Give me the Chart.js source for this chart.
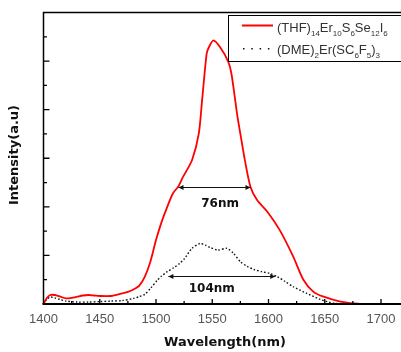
<!DOCTYPE html>
<html>
<head>
<meta charset="utf-8">
<script src="https://cdn.jsdelivr.net/npm/chart.js@4.4.1/dist/chart.umd.min.js"></script>
<style>
  body { margin: 0; background: #fff; }
  #wrap { width: 401px; height: 352px; overflow: hidden; position: relative; }
  canvas { display: block; }
</style>
</head>
<body>
<div id="wrap"><canvas id="chart" width="430" height="352"></canvas></div>
<script>
// wavelength (nm) and intensity (a.u.)
const thfWave = [1400, 1403, 1406, 1410, 1415, 1420, 1425, 1430, 1435, 1440, 1445, 1450, 1460, 1470, 1475, 1480,
  1485, 1490, 1495, 1500, 1505, 1510, 1515, 1520, 1524, 1532, 1538, 1541, 1545, 1547, 1551, 1557, 1564, 1567,
  1572, 1575, 1579, 1584, 1590, 1599, 1610, 1622, 1631, 1640, 1649, 1664, 1682, 1700];
const thfInt = [0, 0.25, 0.37, 0.37, 0.3, 0.23, 0.25, 0.3, 0.35, 0.37, 0.35, 0.33, 0.33, 0.44, 0.5, 0.6,
  0.75, 1.12, 1.74, 2.63, 3.38, 4.0, 4.55, 4.85, 5.23, 5.92, 7.0, 8.4, 10.3, 10.57, 10.85, 10.57, 10.0, 9.5,
  7.85, 7.0, 5.92, 4.82, 4.27, 3.8, 3.04, 1.95, 1.0, 0.5, 0.3, 0.1, 0, 0];

const dmeWave = [1400, 1403, 1406, 1410, 1415, 1420, 1430, 1440, 1450, 1460, 1470, 1480, 1485, 1490, 1495, 1501,
  1505, 1510, 1516, 1521, 1525, 1532, 1539, 1544, 1548, 1555, 1563, 1569, 1575, 1581, 1587, 1594, 1601, 1608,
  1615, 1622, 1634, 1646, 1658, 1670, 1700];
const dmeInt = [0, 0.2, 0.29, 0.25, 0.18, 0.12, 0.08, 0.08, 0.1, 0.12, 0.14, 0.23, 0.3, 0.4, 0.64, 0.97,
  1.15, 1.33, 1.5, 1.67, 1.85, 2.29, 2.49, 2.42, 2.33, 2.22, 2.29, 2.08, 1.74, 1.55, 1.42, 1.33, 1.26, 1.12,
  0.92, 0.71, 0.44, 0.19, 0.03, 0, 0];

const xTickLabels = [1400, 1450, 1500, 1550, 1600, 1650, 1700];

// legend labels: [text, isSubscript]
const thfLabel = [["(THF)", 0], ["14", 1], ["Er", 0], ["10", 1], ["S", 0], ["6", 1], ["Se", 0], ["12", 1], ["I", 0], ["6", 1]];
const dmeLabel = [["(DME)", 0], ["2", 1], ["Er(SC", 0], ["6", 1], ["F", 0], ["5", 1], [")", 0], ["3", 1]];

// FWHM markers: [from, to, level, label, labelX, labelY]
const widths = [
  [1520, 1584, 4.82, "76nm", 1557, 4.14],
  [1511, 1606, 1.15, "104nm", 1549.6, 0.64],
];

const xMin = 1400, xMax = 1740, yMax = 12;

function toPoints(xs, ys) {
  return xs.map((x, i) => ({ x: x, y: ys[i] }));
}

function drawRich(ctx, parts, x, y) {
  parts.forEach(([t, sub]) => {
    ctx.font = sub ? "8px 'Liberation Sans', Arial, sans-serif" : "13px 'Liberation Sans', Arial, sans-serif";
    ctx.fillText(t, x, sub ? y + 4 : y);
    x += ctx.measureText(t).width;
  });
}

function arrowHead(ctx, x, y, dir) {
  ctx.beginPath();
  ctx.moveTo(x, y);
  ctx.lineTo(x - dir * 5, y - 2.5);
  ctx.lineTo(x - dir * 5, y + 2.5);
  ctx.closePath();
  ctx.fill();
}

const framePlugin = {
  id: "frame",
  afterDatasetsDraw(chart) {
    const ctx = chart.ctx;
    const a = chart.chartArea;
    const xs = chart.scales.x, ys = chart.scales.y;
    ctx.save();

    // width arrows and labels
    ctx.strokeStyle = "#111";
    ctx.fillStyle = "#111";
    ctx.lineWidth = 1;
    widths.forEach(([from, to, lvl, label, lx, ly]) => {
      const x1 = xs.getPixelForValue(from), x2 = xs.getPixelForValue(to);
      const y = Math.round(ys.getPixelForValue(lvl)) + 0.5;
      ctx.beginPath();
      ctx.moveTo(x1, y);
      ctx.lineTo(x2, y);
      ctx.stroke();
      arrowHead(ctx, x1, y, -1);
      arrowHead(ctx, x2, y, 1);
      ctx.font = "bold 12px 'DejaVu Sans', sans-serif";
      ctx.textAlign = "center";
      ctx.textBaseline = "middle";
      ctx.fillText(label, xs.getPixelForValue(lx), ys.getPixelForValue(ly));
    });

    // frame
    ctx.strokeStyle = "#000";
    ctx.lineWidth = 1.5;
    ctx.beginPath();
    ctx.moveTo(a.left, a.bottom);
    ctx.lineTo(a.left, a.top);
    ctx.lineTo(a.right, a.top);
    ctx.lineTo(a.right, a.bottom);
    ctx.stroke();
    ctx.lineWidth = 2;
    ctx.beginPath();
    ctx.moveTo(a.left - 1, a.bottom);
    ctx.lineTo(a.right, a.bottom);
    ctx.stroke();

    // inward ticks
    ctx.lineWidth = 1.3;
    ctx.beginPath();
    for (let v = 1425; v < xMax; v += 25) {
      const px = xs.getPixelForValue(v);
      const len = v % 50 === 0 ? 5 : 3;
      ctx.moveTo(px, a.bottom);
      ctx.lineTo(px, a.bottom - len);
    }
    for (let v = 1; v < yMax; v++) {
      const py = ys.getPixelForValue(v);
      const len = v % 2 === 0 ? 6 : 3.5;
      ctx.moveTo(a.left, py);
      ctx.lineTo(a.left + len, py);
    }
    ctx.stroke();

    // legend box
    ctx.fillStyle = "#fff";
    ctx.fillRect(228, 15, 200, 47);
    ctx.strokeStyle = "#000";
    ctx.lineWidth = 1;
    ctx.strokeRect(228.5, 15.5, 200, 46);
    ctx.strokeStyle = "#ff0000";
    ctx.lineWidth = 2;
    ctx.beginPath();
    ctx.moveTo(242, 25.5);
    ctx.lineTo(273, 25.5);
    ctx.stroke();
    ctx.fillStyle = "#111";
    for (let i = 0; i < 4; i++) {
      ctx.fillRect(243 + i * 8.3, 48, 1.5, 1.5);
    }
    ctx.fillStyle = "#333";
    ctx.textAlign = "left";
    ctx.textBaseline = "alphabetic";
    drawRich(ctx, thfLabel, 277, 31.5);
    drawRich(ctx, dmeLabel, 277, 53.5);

    // axis titles
    ctx.fillStyle = "#111";
    ctx.font = "bold 13px 'DejaVu Sans', sans-serif";
    ctx.textAlign = "center";
    ctx.textBaseline = "middle";
    ctx.fillText("Wavelength(nm)", 225, 343);
    ctx.translate(14.5, 155);
    ctx.rotate(-Math.PI / 2);
    ctx.fillText("Intensity(a.u)", 0, 0);
    ctx.restore();
  },
};

new Chart(document.getElementById("chart"), {
  type: "line",
  data: {
    datasets: [
      {
        label: "THF",
        data: toPoints(thfWave, thfInt),
        borderColor: "#ff0000",
        borderWidth: 1.8,
        pointRadius: 0,
        tension: 0.25,
        fill: false,
      },
      {
        label: "DME",
        data: toPoints(dmeWave, dmeInt),
        borderColor: "#111",
        borderWidth: 1.4,
        borderDash: [1.6, 2],
        pointRadius: 0,
        tension: 0.25,
        fill: false,
      },
    ],
  },
  options: {
    responsive: false,
    devicePixelRatio: 1,
    animation: false,
    layout: { padding: { top: 12.5, right: 4, left: 0, bottom: 0 } },
    plugins: { legend: { display: false }, tooltip: { enabled: false } },
    scales: {
      x: {
        type: "linear",
        min: xMin,
        max: xMax,
        grid: { display: false, drawTicks: false },
        border: { display: false },
        afterFit: (s) => { s.height = 48; },
        afterBuildTicks: (s) => {
          s.ticks = xTickLabels.map((v) => ({ value: v }));
        },
        ticks: {
          padding: 8,
          color: "#555",
          font: { family: "'Liberation Sans', Arial, sans-serif", size: 13 },
          maxRotation: 0,
          callback: (v) => String(v),
        },
      },
      y: {
        min: 0,
        max: yMax,
        grid: { display: false, drawTicks: false },
        border: { display: false },
        ticks: { display: false },
        afterFit: (s) => { s.width = 43.5; },
      },
    },
  },
  plugins: [framePlugin],
});
</script>
</body>
</html>
